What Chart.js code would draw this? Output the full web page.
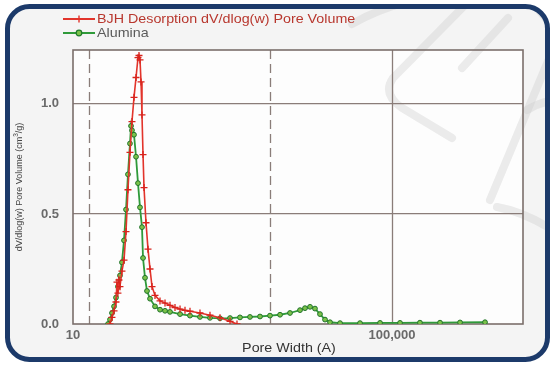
<!DOCTYPE html>
<html>
<head>
<meta charset="utf-8">
<script src="https://cdn.jsdelivr.net/npm/chart.js@4/dist/chart.umd.min.js"></script>
<style>
  html, body { margin: 0; padding: 0; background: #ffffff; }
  #wrap { width: 551px; height: 365px; position: relative; }
</style>
</head>
<body>
<div id="wrap"><canvas id="c" width="551" height="365"></canvas></div>
<script>
// ---- data (pore width in Å, dV/dlog(w) in cm3/g) ----
const bjhWidth = [29.1, 30.8, 32.7, 34.6, 35.6, 36.6, 37.7, 38.8, 41.1, 43.6, 46.2, 48.9, 51.8, 54.9, 58.2, 61.7, 65.3, 67.2, 69.2, 71.3, 73.3, 75.5, 77.7, 82.3, 87.2, 92.4, 97.9, 106.7, 123.3, 142.5, 164.5, 190.1, 219.8, 253.7, 293, 391, 522, 697, 931, 1138];
const bjhValue = [0.00, 0.03, 0.06, 0.10, 0.19, 0.14, 0.20, 0.17, 0.24, 0.29, 0.42, 0.61, 0.78, 0.92, 1.03, 1.12, 1.21, 1.22, 1.20, 1.10, 0.95, 0.77, 0.62, 0.46, 0.34, 0.25, 0.17, 0.13, 0.105, 0.095, 0.085, 0.075, 0.068, 0.062, 0.058, 0.05, 0.04, 0.028, 0.012, 0.00];

const aluminaWidth = [27.5, 29.1, 30.8, 32.7, 34.6, 36.6, 38.8, 41.1, 43.6, 46.2, 48.9, 51.8, 53.4, 54.9, 58.2, 61.7, 65.3, 69.2, 73.3, 75.5, 80.0, 84.7, 92.4, 106.7, 123.3, 142.5, 164.5, 219.8, 293, 391, 522, 697, 931, 1241, 1656, 2212, 2951, 3945, 5260, 7020, 8110, 9380, 10820, 12500, 14450, 16700, 22300, 39700, 70800, 126000, 224000, 400000, 713000, 1466000];
const aluminaValue = [0.00, 0.02, 0.05, 0.08, 0.12, 0.17, 0.22, 0.28, 0.38, 0.52, 0.68, 0.82, 0.90, 0.88, 0.86, 0.76, 0.64, 0.53, 0.44, 0.30, 0.21, 0.15, 0.115, 0.08, 0.065, 0.06, 0.055, 0.045, 0.038, 0.032, 0.028, 0.026, 0.027, 0.03, 0.032, 0.034, 0.038, 0.042, 0.05, 0.063, 0.072, 0.078, 0.07, 0.045, 0.02, 0.008, 0.004, 0.004, 0.005, 0.005, 0.006, 0.006, 0.007, 0.008];

const seriesNames = ["BJH Desorption dV/dlog(w) Pore Volume", "Alumina"];
const xTickValues = [10, 100000];
const xDashedGrid = [15.9, 2950];
const xSolidGrid = [100000];
const yTickValues = [0, 0.5, 1.0];
const xRange = [10, 4390000];
const yRange = [0, 1.245];
const xTitle = "Pore Width (A)";
const yTitleParts = ["dV/dlog(w) Pore Volume (cm", "3", "/g)"];

const FONT = "'Liberation Sans', Arial, Helvetica, sans-serif";
const RED = "#e2342b";
const GREEN = "#2f9a3a";
const TEXT_STRETCH = 1.1;

function toXY(xs, ys) { return xs.map((x, i) => ({ x: x, y: ys[i] })); }

function roundRect(ctx, x, y, w, h, r) {
  ctx.beginPath();
  ctx.moveTo(x + r, y);
  ctx.lineTo(x + w - r, y);
  ctx.arcTo(x + w, y, x + w, y + r, r);
  ctx.lineTo(x + w, y + h - r);
  ctx.arcTo(x + w, y + h, x + w - r, y + h, r);
  ctx.lineTo(x + r, y + h);
  ctx.arcTo(x, y + h, x, y + h - r, r);
  ctx.lineTo(x, y + r);
  ctx.arcTo(x, y, x + r, y, r);
  ctx.closePath();
}

function stretchedText(ctx, text, x, y, align) {
  ctx.save();
  ctx.translate(x, y);
  ctx.scale(TEXT_STRETCH, 1);
  ctx.textAlign = align;
  ctx.fillText(text, 0, 0);
  ctx.restore();
}

function watermark(ctx) {
  ctx.save();
  roundRect(ctx, 7.5, 6.5, 540, 353, 22);
  ctx.clip();
  ctx.strokeStyle = 'rgba(205,205,205,0.38)';
  ctx.lineWidth = 8;
  ctx.lineCap = 'round';
  ctx.beginPath(); ctx.moveTo(352, 24); ctx.quadraticCurveTo(380, 8, 414, 0); ctx.stroke();
  ctx.beginPath(); ctx.moveTo(470, 0); ctx.lineTo(393, 78); ctx.quadraticCurveTo(382, 94, 402, 108); ctx.lineTo(452, 138); ctx.stroke();
  ctx.beginPath(); ctx.moveTo(462, 68); ctx.lineTo(508, 18); ctx.stroke();
  ctx.beginPath(); ctx.moveTo(556, 42); ctx.lineTo(490, 200); ctx.stroke();
  ctx.beginPath(); ctx.moveTo(527, 110); ctx.quadraticCurveTo(540, 102, 556, 100); ctx.stroke();
  ctx.beginPath(); ctx.moveTo(497, 207); ctx.quadraticCurveTo(525, 212, 556, 232); ctx.stroke();
  ctx.beginPath(); ctx.moveTo(530, 0); ctx.lineTo(556, 30); ctx.stroke();
  ctx.restore();
}

const decor = {
  id: 'decor',
  beforeDraw(chart) {
    const ctx = chart.ctx, a = chart.chartArea;
    ctx.save();
    ctx.fillStyle = '#ffffff';
    ctx.fillRect(0, 0, chart.width, chart.height);
    roundRect(ctx, 7.5, 6.5, 540, 353, 22);
    ctx.fillStyle = '#f4f4f4';
    ctx.fill();
    ctx.fillStyle = '#fdfdfd';
    ctx.fillRect(a.left, a.top, a.right - a.left, a.bottom - a.top);
    ctx.restore();
    watermark(ctx);
  },
  beforeDatasetsDraw(chart) {
    const ctx = chart.ctx, a = chart.chartArea, xs = chart.scales.x;
    ctx.save();
    ctx.strokeStyle = '#8a7d79';
    ctx.lineWidth = 1.3;
    ctx.setLineDash([9, 5]);
    xDashedGrid.forEach(v => {
      const px = Math.round(xs.getPixelForValue(v)) + 0.5;
      ctx.beginPath(); ctx.moveTo(px, a.top); ctx.lineTo(px, a.bottom); ctx.stroke();
    });
    ctx.setLineDash([]);
    xSolidGrid.forEach(v => {
      const px = Math.round(xs.getPixelForValue(v)) + 0.5;
      ctx.beginPath(); ctx.moveTo(px, a.top); ctx.lineTo(px, a.bottom); ctx.stroke();
    });
    ctx.strokeStyle = '#7b6f6b';
    ctx.lineWidth = 1.6;
    ctx.strokeRect(a.left, a.top, a.right - a.left, a.bottom - a.top);
    ctx.restore();
  },
  afterDraw(chart) {
    const ctx = chart.ctx;
    ctx.save();
    roundRect(ctx, 7.5, 6.5, 540, 353, 22);
    ctx.strokeStyle = '#1c3a6a';
    ctx.lineWidth = 5;
    ctx.stroke();

    // legend
    ctx.lineWidth = 2;
    ctx.strokeStyle = RED;
    ctx.beginPath(); ctx.moveTo(63, 19); ctx.lineTo(95, 19); ctx.stroke();
    ctx.lineWidth = 1.4;
    ctx.beginPath(); ctx.moveTo(79, 15.5); ctx.lineTo(79, 22.5); ctx.moveTo(75.5, 19); ctx.lineTo(82.5, 19); ctx.stroke();
    ctx.lineWidth = 2;
    ctx.strokeStyle = GREEN;
    ctx.beginPath(); ctx.moveTo(63, 33); ctx.lineTo(95, 33); ctx.stroke();
    ctx.beginPath(); ctx.arc(79, 33, 2.8, 0, Math.PI * 2);
    ctx.fillStyle = '#7cc24a'; ctx.fill();
    ctx.lineWidth = 1.2; ctx.strokeStyle = '#1f7a2a'; ctx.stroke();

    ctx.textBaseline = 'middle';
    ctx.font = '13px ' + FONT;
    ctx.fillStyle = '#b8372e';
    stretchedText(ctx, seriesNames[0], 97, 19, 'left');
    ctx.fillStyle = '#5a5a5a';
    stretchedText(ctx, seriesNames[1], 97, 33, 'left');

    // x title
    ctx.font = '13px ' + FONT;
    ctx.fillStyle = '#333333';
    stretchedText(ctx, xTitle, 289, 348, 'center');

    // y title (rotated)
    ctx.translate(20, 187);
    ctx.rotate(-Math.PI / 2);
    const f1 = '9px ' + FONT, f2 = '6.5px ' + FONT;
    ctx.font = f1;
    const w1 = ctx.measureText(yTitleParts[0]).width;
    const w3 = ctx.measureText(yTitleParts[2]).width;
    ctx.font = f2;
    const w2 = ctx.measureText(yTitleParts[1]).width;
    const x0 = -(w1 + w2 + w3) / 2;
    ctx.textAlign = 'left';
    ctx.fillStyle = '#444444';
    ctx.font = f1; ctx.fillText(yTitleParts[0], x0, 0);
    ctx.font = f2; ctx.fillText(yTitleParts[1], x0 + w1, -3.5);
    ctx.font = f1; ctx.fillText(yTitleParts[2], x0 + w1 + w2, 0);
    ctx.restore();
  }
};

new Chart(document.getElementById('c'), {
  type: 'line',
  data: {
    datasets: [
      {
        label: seriesNames[0],
        data: toXY(bjhWidth, bjhValue),
        borderColor: RED,
        borderWidth: 1.6,
        pointStyle: 'cross',
        pointRadius: 3.5,
        pointBorderColor: '#d8241d',
        pointBorderWidth: 1.3,
        pointBackgroundColor: RED,
        tension: 0,
        fill: false
      },
      {
        label: seriesNames[1],
        data: toXY(aluminaWidth, aluminaValue),
        borderColor: GREEN,
        borderWidth: 1.8,
        pointStyle: 'circle',
        pointRadius: 2.4,
        pointBorderColor: '#21742b',
        pointBorderWidth: 1,
        pointBackgroundColor: '#7cc24a',
        tension: 0,
        fill: false
      }
    ]
  },
  options: {
    responsive: false,
    animation: false,
    devicePixelRatio: 1,
    layout: { padding: { left: 0, top: 50, right: 28, bottom: 0 } },
    plugins: { legend: { display: false }, tooltip: { enabled: false } },
    scales: {
      x: {
        type: 'logarithmic',
        min: xRange[0],
        max: xRange[1],
        afterBuildTicks: s => { s.ticks = xTickValues.map(v => ({ value: v })); },
        afterFit: s => { s.height = 41; },
        grid: { display: false, drawTicks: false },
        border: { display: false },
        ticks: {
          autoSkip: false,
          maxRotation: 0,
          padding: 4,
          color: '#6a6a6a',
          font: { family: FONT, size: 13, weight: 'bold' },
          callback: v => Number(v).toLocaleString('en-US')
        }
      },
      y: {
        type: 'linear',
        min: yRange[0],
        max: yRange[1],
        afterBuildTicks: s => { s.ticks = yTickValues.map(v => ({ value: v })); },
        afterFit: s => { s.width = 73; },
        grid: {
          drawTicks: false,
          lineWidth: 1.3,
          color: c => (c.tick && c.tick.value === 0) ? 'rgba(0,0,0,0)' : '#8a7d79'
        },
        border: { display: false },
        ticks: {
          padding: 14,
          color: '#6a6a6a',
          font: { family: FONT, size: 13, weight: 'bold' },
          callback: v => Number(v).toFixed(1)
        }
      }
    }
  },
  plugins: [decor]
});
</script>
</body>
</html>
